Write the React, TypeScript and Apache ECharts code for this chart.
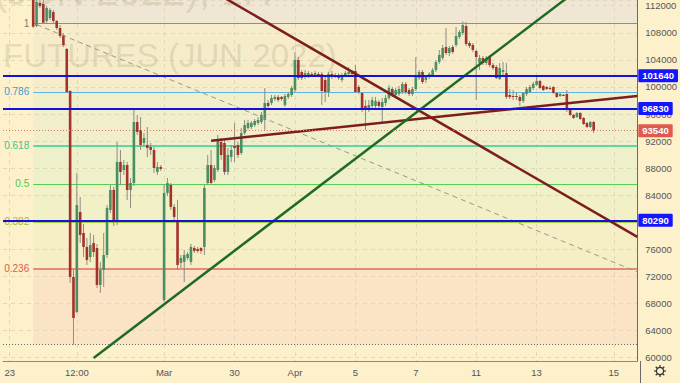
import React, { useEffect, useRef } from 'react';
import * as echarts from 'echarts';

// ---------- data ----------
const BAR_COUNT = 190;
const FIRST_BAR = 9;
// [open, close, low, high] per bar starting at FIRST_BAR
const ohlc: number[][] = [
  [113580, 108900, 108710, 114320],
  [109000, 112550, 108850, 113730],
  [112400, 111960, 111660, 113140],
  [112250, 109490, 109300, 112840],
  [109740, 111660, 109450, 111960],
  [110180, 111370, 109890, 111660],
  [111070, 109740, 109450, 111370],
  [109740, 108710, 108410, 109890],
  [108710, 107530, 107230, 109150],
  [107670, 106200, 105900, 107970],
  [105610, 99250, 99110, 105750],
  [99400, 71930, 71040, 99550],
  [71930, 65870, 61930, 72960],
  [66760, 82560, 66610, 87290],
  [81530, 78130, 76950, 83750],
  [78430, 76360, 74880, 79760],
  [76360, 74440, 73700, 77690],
  [74880, 76650, 74140, 78430],
  [76950, 75620, 74880, 78130],
  [76210, 70750, 70300, 76800],
  [70750, 72960, 69570, 74140],
  [72960, 75180, 70450, 78430],
  [75180, 82120, 74740, 82560],
  [81830, 84780, 81380, 85520],
  [84780, 80050, 79460, 85220],
  [80050, 88920, 79610, 91870],
  [88920, 87440, 85520, 90690],
  [87730, 88470, 87000, 89210],
  [88470, 84780, 83300, 88920],
  [84780, 85810, 82120, 86550],
  [85810, 94820, 85370, 96600],
  [94820, 93350, 92900, 95860],
  [93640, 91430, 90690, 95560],
  [91720, 92460, 91280, 93200],
  [91430, 90980, 89650, 94080],
  [91130, 90690, 89950, 91720],
  [90690, 88030, 87290, 91130],
  [87440, 88180, 87000, 88920],
  [88180, 87880, 87590, 88470],
  [68530, 84340, 68240, 85520],
  [84340, 85810, 83890, 86550],
  [85520, 82270, 81830, 85810],
  [82270, 80790, 80050, 82710],
  [80050, 73700, 72960, 83300],
  [74000, 74740, 73260, 75180],
  [74150, 75180, 71190, 75920],
  [74740, 75330, 74440, 75620],
  [74150, 76360, 73700, 76800],
  [76210, 75770, 75470, 76510],
  [76060, 75770, 75470, 76360],
  [76210, 75770, 75330, 76360],
  [76360, 85080, 75180, 85520],
  [85810, 88470, 85520, 89950],
  [88470, 85810, 85520, 90690],
  [86260, 88030, 85960, 88470],
  [87730, 92160, 87440, 92900],
  [91870, 89950, 89210, 92460],
  [91720, 87440, 87000, 92160],
  [87440, 89950, 87000, 90980],
  [89650, 90690, 88920, 91430],
  [91280, 90980, 88920, 94680],
  [91430, 89950, 89510, 91870],
  [90240, 93200, 89950, 93940],
  [93200, 94380, 92900, 95120],
  [93940, 94680, 93640, 95120],
  [94080, 94680, 93790, 94970],
  [94380, 94970, 94080, 95270],
  [94680, 95120, 94380, 95560],
  [94820, 95860, 94530, 96300],
  [95120, 97630, 93640, 99840],
  [97630, 97190, 96890, 98070],
  [97630, 98370, 97330, 98810],
  [98220, 98520, 97930, 98810],
  [98520, 98070, 97780, 98810],
  [98520, 98220, 97930, 98660],
  [97330, 98660, 97040, 98960],
  [98520, 98960, 98220, 99250],
  [98810, 99840, 98520, 100140],
  [99550, 103980, 99250, 105160],
  [103980, 101320, 101030, 104420],
  [102210, 101320, 101030, 102500],
  [101470, 102060, 101170, 102500],
  [101620, 102060, 101320, 102360],
  [101910, 101840, 101620, 102210],
  [101760, 102060, 101470, 102360],
  [101910, 101760, 101470, 102210],
  [101910, 99400, 97330, 102210],
  [101030, 99250, 97780, 101620],
  [99250, 101910, 98520, 102210],
  [101910, 101470, 101170, 102360],
  [101760, 101470, 101320, 102060],
  [101760, 101320, 101030, 102060],
  [101030, 101760, 100730, 102060],
  [101760, 102060, 101470, 102360],
  [101910, 102210, 101760, 102940],
  [102060, 101980, 101620, 102500],
  [102360, 99250, 99110, 103240],
  [99990, 99250, 98960, 100290],
  [99110, 96600, 96300, 99250],
  [97190, 96600, 93640, 98070],
  [96890, 97330, 96300, 98070],
  [97190, 98070, 96600, 98520],
  [97190, 97920, 96890, 98520],
  [97780, 97190, 96890, 98070],
  [97040, 97780, 94530, 98370],
  [97630, 98370, 97190, 98810],
  [98370, 99840, 98070, 100290],
  [99700, 98810, 98520, 99990],
  [98810, 99550, 98520, 99840],
  [98960, 99700, 98660, 100140],
  [99250, 100440, 98960, 100730],
  [100440, 99250, 98960, 100730],
  [99550, 98960, 98660, 99840],
  [98960, 99700, 98660, 99990],
  [99700, 101470, 99400, 104420],
  [101320, 102210, 101030, 102500],
  [102210, 100730, 100440, 102500],
  [101030, 101470, 100580, 101760],
  [101470, 101910, 101170, 102210],
  [101760, 102500, 101470, 102800],
  [102500, 103690, 102210, 103980],
  [103690, 104720, 103390, 105460],
  [104280, 105750, 103980, 106200],
  [105900, 105010, 104720, 108710],
  [105010, 105750, 104570, 106050],
  [105900, 105160, 104870, 106200],
  [106200, 107530, 105900, 108850],
  [107380, 108120, 107080, 108410],
  [107970, 109150, 107670, 109670],
  [109000, 106340, 106050, 109590],
  [106490, 106050, 105750, 106790],
  [106200, 105460, 105160, 106490],
  [105310, 104420, 98070, 105460],
  [103540, 104280, 102500, 104720],
  [104280, 103540, 103240, 104570],
  [103540, 104280, 103240, 104570],
  [104420, 103240, 102950, 104720],
  [103240, 102800, 102500, 103540],
  [102950, 101320, 101170, 103240],
  [101170, 102800, 101030, 103540],
  [102210, 102500, 101470, 103690],
  [102060, 98520, 98220, 103540],
  [98810, 98520, 98220, 99700],
  [98660, 98620, 98070, 99550],
  [98660, 98590, 98070, 99250],
  [98520, 97930, 97190, 98810],
  [97930, 99110, 97630, 99250],
  [98960, 99700, 98660, 99990],
  [99250, 99990, 99110, 100290],
  [99840, 100440, 99550, 100730],
  [100290, 100880, 100140, 101620],
  [100880, 99840, 99700, 101030],
  [100140, 99550, 99400, 100290],
  [99990, 99700, 99550, 100140],
  [99840, 99800, 99550, 100140],
  [99990, 99110, 98960, 100140],
  [99110, 98520, 98370, 99250],
  [98660, 98960, 98520, 99110],
  [98810, 98770, 98660, 98960],
  [98960, 96600, 96300, 99550],
  [96600, 95860, 95710, 96740],
  [95860, 95410, 95270, 96000],
  [95560, 96150, 95410, 96300],
  [96150, 95270, 95120, 96300],
  [95410, 94530, 94380, 95560],
  [94680, 94080, 93940, 94820],
  [94080, 94820, 93940, 94970],
  [94820, 93540, 93200, 94970],
];

const xTickIndex = [2, 22, 48, 69, 87, 105, 123, 141, 159, 182];
const xTickLabels = ['23', '12:00', 'Mar', '30', 'Apr', '5', '7', '11', '13', '15'];

const Y_MIN = 59513;
const Y_MAX = 112842;

const fibHigh = 109440;
const fibLow = 61930;
const fibStartBar = 9;
const fibRatios = [1, 0.786, 0.618, 0.5, 0.382, 0.236, 0];

const keyLevels = [101640, 96830, 80290];
const lastPrice = 93540;

const trendDown = [[40, 120610], [189, 77840]];
const trendUpRed = [[62, 92050], [189, 98660]];
const trendUpGreen = [[27, 59970], [189, 121050]];
const trendDashed = [[10, 109210], [189, 72670]];

const watermarkTop = '(JUN 2022), 1H';
const watermarkMain = 'FUTURES (JUN 2022)';

// ---------- styles ----------
const BG = '#fdf1cb';
const UP = '#4a8f62';
const DOWN = '#a3322a';
const WICK = '#8e8c84';
const fibLineColors = ['#8f8f86', '#5cb2e4', '#5fd6a4', '#55d055', '#a6cf44', '#e58b79', '#777'];
const fibLabelColors = ['#7d7d7d', '#3d9bd6', '#3cc48f', '#4cc94c', '#9ac23c', '#e05a4a', '#7d7d7d'];
const zoneColors = ['#efe7d4', '#f6ecca', '#f1eecc', '#eef0ca', '#f2f0c7', '#f6efc6', '#fbe3c6'];
const GRID_LINE = '#e2d6bb';

export default function App() {
  const ref = useRef<HTMLDivElement>(null);
  useEffect(() => {
    if (!ref.current) return;
    const chart = echarts.init(ref.current, undefined, { renderer: 'svg' });
    const categories = Array.from({ length: BAR_COUNT }, (_, i) => String(i));
    const labelMap = new Map<number, string>();
    xTickIndex.forEach((idx, i) => labelMap.set(idx, xTickLabels[i]));
    const candleData = ohlc.map((d, i) => [FIRST_BAR + i, d[0], d[1], d[2], d[3]]);
    const fibPrices = fibRatios.map((r) => fibLow + r * (fibHigh - fibLow));
    const lastBar = BAR_COUNT - 1;

    const zoneBounds = [Y_MAX, ...fibPrices];
    const zoneData = zoneColors.map((c, i) => [
      { coord: [fibStartBar, zoneBounds[i]], itemStyle: { color: c } },
      { coord: [lastBar, zoneBounds[i + 1]] },
    ]);

    const fibLineData = fibRatios.map((r, i) => [
      {
        name: String(r),
        coord: [fibStartBar, fibPrices[i]],
        lineStyle: {
          color: fibLineColors[i],
          width: r === 0.236 || r === 0.618 ? 2 : 1,
          opacity: r === 0 ? 0 : 1,
          type: 'solid',
        },
        label: { color: fibLabelColors[i] },
      },
      { coord: [lastBar, fibPrices[i]] },
    ]);

    const trendSeries = (data: number[][], color: string, width: number, type: any = 'solid', z = 4) => ({
      type: 'line',
      data,
      symbol: 'none',
      silent: true,
      clip: true,
      z,
      lineStyle: { color, width, type },
    });

    const wmFill = 'rgba(140,125,95,0.2)';

    const option: any = {
      animation: false,
      backgroundColor: BG,
      grid: { left: 0, right: 40, top: 0, bottom: 22, containLabel: false },
      xAxis: {
        type: 'category',
        z: 1.2,
        data: categories,
        boundaryGap: false,
        axisLine: { show: true, lineStyle: { color: '#8c8a82' } },
        axisTick: { show: false },
        axisLabel: {
          interval: 0,
          formatter: (_v: string, i: number) => labelMap.get(i) ?? '',
          color: '#555',
          fontSize: 9.5,
          fontFamily: 'Liberation Sans',
          margin: 6,
        },
        splitLine: {
          show: true,
          interval: (i: number) => labelMap.has(i),
          lineStyle: { color: GRID_LINE, type: [4, 4] },
        },
      },
      yAxis: {
        type: 'value',
        z: 1.2,
        position: 'right',
        min: Y_MIN,
        max: Y_MAX,
        minInterval: 4000,
        maxInterval: 4000,
        axisLine: { show: true, lineStyle: { color: '#6a6a66' } },
        axisTick: { show: false },
        axisLabel: {
          showMinLabel: false,
          showMaxLabel: false,
          formatter: (v: number) => (v % 4000 === 0 ? String(v) : ''),
          color: '#555',
          fontSize: 9.5,
          fontFamily: 'Liberation Sans',
          margin: 8,
        },
        splitLine: { show: true, lineStyle: { color: GRID_LINE, type: [4, 4] } },
      },
      graphic: [
        {
          type: 'text',
          z: 1.5,
          x: 272,
          y: 11,
          silent: true,
          style: {
            text: watermarkTop,
            fill: wmFill,
            font: '40px "Liberation Sans"',
            align: 'right',
            verticalAlign: 'bottom',
          },
        },
        {
          type: 'text',
          z: 1.5,
          x: 3,
          y: 55,
          silent: true,
          style: {
            text: watermarkMain,
            fill: wmFill,
            font: '33px "Liberation Sans"',
            align: 'left',
            verticalAlign: 'middle',
          },
        },
        {
          type: 'line',
          shape: { x1: 640.5, y1: 361, x2: 640.5, y2: 383 },
          style: { stroke: '#6a6a66', lineWidth: 1 },
          silent: true,
        },
        {
          type: 'group',
          x: 660,
          y: 371,
          silent: true,
          children: [
            { type: 'circle', shape: { cx: 0, cy: 0, r: 3.6 }, style: { fill: 'none', stroke: '#333', lineWidth: 1.2 } },
            ...Array.from({ length: 8 }, (_, i) => {
              const a = (i * Math.PI) / 4;
              return {
                type: 'line',
                shape: { x1: Math.cos(a) * 3.6, y1: Math.sin(a) * 3.6, x2: Math.cos(a) * 6, y2: Math.sin(a) * 6 },
                style: { stroke: '#333', lineWidth: 1.2 },
              };
            }),
          ],
        },
      ],
      series: [
        {
          type: 'line',
          data: [],
          z: 1,
          silent: true,
          markArea: { silent: true, z: 1, data: zoneData },
          markLine: {
            silent: true,
            z: 2,
            symbol: ['none', 'none'],
            lineStyle: { type: 'solid' },
            label: { position: 'start', formatter: '{b}', fontSize: 10, fontFamily: 'Liberation Sans', distance: 4 },
            data: fibLineData,
          },
        },
        {
          type: 'line',
          data: [],
          z: 2,
          silent: true,
          markLine: {
            silent: true,
            z: 2,
            symbol: ['none', 'none'],
            label: { show: false },
            lineStyle: { color: '#6f6f6a', type: [1, 2], width: 1 },
            data: [{ yAxis: fibLow }],
          },
        },
        {
          type: 'custom',
          z: 3,
          clip: true,
          data: candleData,
          encode: { x: 0, y: [1, 2, 3, 4] },
          renderItem: (_p: any, api: any) => {
            const x = api.value(0);
            const o = api.value(1);
            const c = api.value(2);
            const l = api.value(3);
            const h = api.value(4);
            const pO = api.coord([x, o]);
            const pC = api.coord([x, c]);
            const pL = api.coord([x, l]);
            const pH = api.coord([x, h]);
            const w = 2.6;
            const top = Math.min(pO[1], pC[1]);
            const hgt = Math.max(1, Math.abs(pO[1] - pC[1]));
            return {
              type: 'group',
              children: [
                {
                  type: 'line',
                  shape: { x1: pH[0], y1: pH[1], x2: pL[0], y2: pL[1] },
                  style: { stroke: WICK, lineWidth: 1 },
                },
                {
                  type: 'rect',
                  shape: { x: pO[0] - w / 2, y: top, width: w, height: hgt },
                  style: { fill: c >= o ? UP : DOWN },
                },
              ],
            };
          },
        },
        trendSeries(trendDashed, '#9a968c', 1, [5, 4], 4),
        trendSeries(trendDown, '#7d1d1d', 2.5),
        trendSeries(trendUpRed, '#7d1d1d', 2.5),
        trendSeries(trendUpGreen, '#1e6b22', 2.5),
        {
          type: 'line',
          data: [],
          z: 6,
          silent: true,
          markLine: {
            silent: true,
            z: 6,
            symbol: ['none', 'none'],
            label: {
              position: 'end',
              distance: 1,
              color: '#fff',
              fontSize: 9.5,
              fontFamily: 'Liberation Sans',
              fontWeight: 'bold',
              padding: [2, 4, 1, 4],
              borderRadius: 1,
            },
            data: [
              ...keyLevels.map((v) => ({
                yAxis: v,
                lineStyle: { color: '#1212dd', width: 2, type: 'solid' },
                label: { formatter: String(v), backgroundColor: '#1515ff' },
              })),
              {
                yAxis: lastPrice,
                lineStyle: { color: '#e07a68', width: 1, type: [1, 2] },
                label: { formatter: String(lastPrice), backgroundColor: '#df5a4c' },
              },
            ],
          },
        },
      ],
    };
    chart.setOption(option);
    return () => chart.dispose();
  }, []);
  return (
    <div
      ref={ref}
      style={{ position: 'fixed', left: 0, top: 0, width: 680, height: 383, background: BG }}
    />
  );
}
